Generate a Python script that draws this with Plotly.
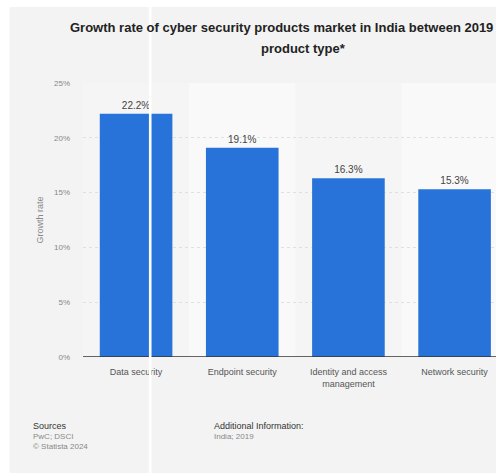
import plotly.graph_objects as go

categories = ["Data security", "Endpoint security", "Identity and access<br>management", "Network security"]
values = [22.2, 19.1, 16.3, 15.3]
value_labels = ["22.2%", "19.1%", "16.3%", "15.3%"]
y_ticks = [0, 5, 10, 15, 20, 25]
y_tick_labels = ["0%", "5%", "10%", "15%", "20%", "25%"]

W, H = 496, 473
L, R, T, B = 82.5, 0, 83, 116
PW = W - L - R
PH = H - T - B

def px(x):
    return (x - L) / PW

def py(y):
    return (H - B - y) / PH

FONT = "Liberation Sans, Arial, sans-serif"

fig = go.Figure()
fig.add_trace(go.Bar(
    x=categories, y=values, text=value_labels, textposition="outside",
    textfont=dict(family=FONT, size=10, color="#444"),
    marker=dict(color="#2773d9", line=dict(width=0)),
    cliponaxis=False, hoverinfo="skip",
))

shapes = []
# alternating column bands
for i, c in enumerate(categories):
    if i % 2 == 1:
        shapes.append(dict(type="rect", xref="x", yref="y", x0=i - 0.5, x1=i + 0.5, y0=0, y1=25,
                           fillcolor="#f9f9f9", line=dict(width=0), layer="below"))
# baseline
shapes.append(dict(type="line", xref="paper", yref="y", x0=0, x1=1, y0=0, y1=0,
                   line=dict(color="#333", width=1.5)))
# white frame strips (top and left)
shapes.append(dict(type="rect", xref="paper", yref="paper", x0=px(-5), x1=px(9), y0=py(480), y1=py(-5),
                   fillcolor="white", line=dict(width=0)))
shapes.append(dict(type="rect", xref="paper", yref="paper", x0=px(-5), x1=px(505), y0=py(7), y1=py(-5),
                   fillcolor="white", line=dict(width=0)))
# white vertical stripe
shapes.append(dict(type="line", xref="paper", yref="paper", x0=px(149.8), x1=px(149.8), y0=py(480), y1=py(7),
                   line=dict(color="white", width=2.6)))

annotations = [
    dict(text="<b>Growth rate of cyber security products market in India between 2019</b>",
         x=px(67), y=py(28), xref="paper", yref="paper", xanchor="left", yanchor="middle",
         showarrow=False, font=dict(family=FONT, size=13, color="#222")),
    dict(text="<b>product type*</b>", x=px(303), y=py(48), xref="paper", yref="paper",
         xanchor="center", yanchor="middle", showarrow=False, font=dict(family=FONT, size=13, color="#222")),
    dict(text="Sources", x=px(30), y=py(426), xref="paper", yref="paper", xanchor="left", yanchor="middle",
         showarrow=False, font=dict(family=FONT, size=9, color="#333")),
    dict(text="PwC; DSCI", x=px(30), y=py(436.5), xref="paper", yref="paper", xanchor="left", yanchor="middle",
         showarrow=False, font=dict(family=FONT, size=8, color="#888")),
    dict(text="© Statista 2024", x=px(30), y=py(446.5), xref="paper", yref="paper", xanchor="left", yanchor="middle",
         showarrow=False, font=dict(family=FONT, size=8, color="#888")),
    dict(text="Additional Information:", x=px(212), y=py(426), xref="paper", yref="paper", xanchor="left",
         yanchor="middle", showarrow=False, font=dict(family=FONT, size=9, color="#333")),
    dict(text="India; 2019", x=px(212), y=py(436.5), xref="paper", yref="paper", xanchor="left",
         yanchor="middle", showarrow=False, font=dict(family=FONT, size=8, color="#888")),
]

fig.update_layout(
    width=W, height=H, margin=dict(l=L, r=R, t=T, b=B, pad=0),
    paper_bgcolor="#f3f3f3", plot_bgcolor="#f5f5f5",
    showlegend=False, bargap=0.316,
    shapes=shapes, annotations=annotations,
    xaxis=dict(range=[-0.5, 3.39], showgrid=False, zeroline=False, showline=False, ticks="",
               ticklabelstandoff=8,
               tickfont=dict(family=FONT, size=9, color="#555"), fixedrange=True),
    yaxis=dict(range=[0, 25], tickvals=y_ticks, ticktext=y_tick_labels,
               showgrid=True, gridcolor="#e0e0e0", griddash="dot", gridwidth=1,
               zeroline=False, showline=False, ticks="", ticklabelstandoff=12,
               tickfont=dict(family=FONT, size=8, color="#888"),
               title=dict(text="Growth rate", font=dict(family=FONT, size=9, color="#888"), standoff=8),
               fixedrange=True),
)

fig.write_html("out.html", config={"displayModeBar": False})
